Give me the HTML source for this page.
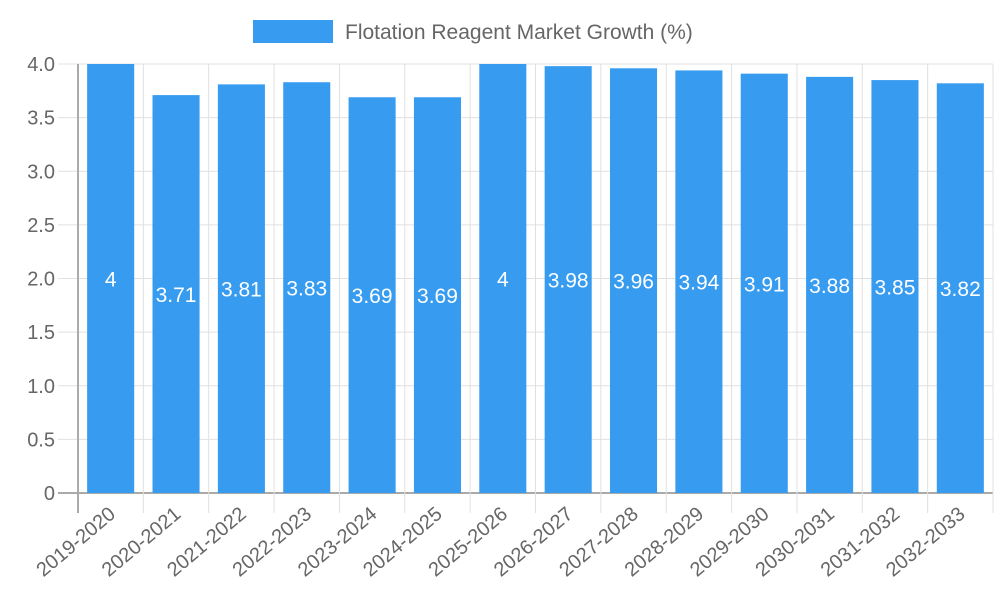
<!DOCTYPE html>
<html><head><meta charset="utf-8"><style>
html,body{margin:0;padding:0;background:#fff;}
svg{display:block;font-family:"Liberation Sans",sans-serif;}
</style></head><body>
<svg id="chart" width="1000" height="600">
<rect x="253" y="20" width="80" height="23" fill="#379cf0"/>
<text x="345" y="39" font-size="21" fill="#666">Flotation Reagent Market Growth (%)</text>
<g id="grid"></g><g id="bars"></g><g id="labels"></g>
</svg>
<script>
const categories=["2019-2020","2020-2021","2021-2022","2022-2023","2023-2024","2024-2025","2025-2026","2026-2027","2027-2028","2028-2029","2029-2030","2030-2031","2031-2032","2032-2033"];
const values=[4,3.71,3.81,3.83,3.69,3.69,4,3.98,3.96,3.94,3.91,3.88,3.85,3.82];
const yTicks=[0,0.5,1.0,1.5,2.0,2.5,3.0,3.5,4.0];
const yTickLabels=["0","0.5","1.0","1.5","2.0","2.5","3.0","3.5","4.0"];
const NS="http://www.w3.org/2000/svg";
const L=78,R=993,T=64,B=493,yMax=4;
const bw=(R-L)/categories.length;
const y=v=>B-(v/yMax)*(B-T);
const xc=i=>L+bw*(i+0.5);
function mk(tag,attrs,parent,txt){const e=document.createElementNS(NS,tag);for(const k in attrs)e.setAttribute(k,attrs[k]);if(txt!==undefined)e.textContent=txt;parent.appendChild(e);return e;}
const grid=document.getElementById('grid'),bars=document.getElementById('bars'),labels=document.getElementById('labels');
yTicks.forEach((t,i)=>{
 const g=mk('line',{x1:58,x2:R,y1:y(t),y2:y(t),stroke:i===0?'#aaa':'#e0e0e0','stroke-width':i===0?2:1},grid);
 
 
 const tx=mk('text',{x:55,y:y(t)+7,'text-anchor':'end','font-size':20,fill:'#666'},grid,yTickLabels[i]);
 
 
});
for(let i=0;i<=categories.length;i++){
 const xx=L+bw*i;
 const g=mk('line',{x1:xx,x2:xx,y1:T,y2:513,stroke:i===0?'#aaa':'#e0e0e0','stroke-width':i===0?2:1},grid);
 
 
}
categories.forEach((c,i)=>{
 const w=bw*0.72, v=values[i];
 const r=mk('rect',{x:xc(i)-w/2,y:y(v),width:w,height:B-y(v),fill:'#379cf0'},bars);
 
 
 const vl=mk('text',{x:xc(i),y:(y(v)+B)/2+8,'text-anchor':'middle','font-size':21,fill:'#fff'},labels,String(v));
 
 
 const xl=mk('text',{x:xc(i)+6,y:516,'text-anchor':'end','font-size':20,fill:'#666',transform:`rotate(-40 ${xc(i)+6} 516)`},labels,c);
 
 
});
</script>
</body></html>
